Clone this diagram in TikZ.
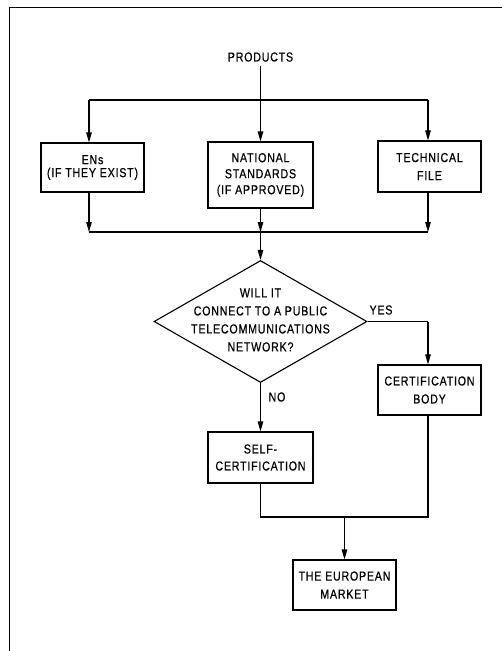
\documentclass[tikz,border=0pt]{standalone}
\usepackage{fontspec}
\setmainfont{Liberation Sans}[FakeStretch=0.82,LetterSpace=6,FakeBold=0.6]
\usetikzlibrary{arrows.meta,shapes.geometric}
\begin{document}
\begin{tikzpicture}[x=1pt,y=-1pt,
  every node/.style={font=\fontsize{13}{17}\selectfont},
  box/.style={draw,line width=1.1pt,align=center,inner sep=0pt},
  lbl/.style={inner sep=0pt},
  conn/.style={line width=1.1pt},
  arr/.style={conn,-{Triangle[length=10pt,width=5.5pt]}},
  frame/.style={line width=1pt}]
\useasboundingbox (0,0) rectangle (502,651);
% frame
\coordinate (fTL) at (9,7);
\coordinate (fBL) at (9,651);
\coordinate (fTR) at (502,7);
\draw[frame] (fBL) -- (fTL) -- (fTR);
% nodes
\node[lbl] (prod) at (260.5,57) {PRODUCTS};
\node[box,minimum width=103pt,minimum height=49pt,font=\fontsize{13}{13}\selectfont] (en) at (92.5,167.5) {ENs\\(IF THEY EXIST)};
\node[box,minimum width=105pt,minimum height=66pt,font=\fontsize{13}{16}\selectfont] (nat) at (260.5,175) {NATIONAL\\STANDARDS\\(IF APPROVED)};
\node[box,minimum width=103pt,minimum height=51pt,font=\fontsize{13}{18}\selectfont] (tech) at (429.5,166.5) {TECHNICAL\\FILE};
\node[draw,diamond,line width=1.1pt,inner sep=0pt,minimum width=213pt,minimum height=122pt] (dia) at (260.5,321.5) {};
\node[lbl,align=center,font=\fontsize{13}{18}\selectfont] (diatext) at (260.5,320) {WILL IT\\CONNECT TO A PUBLIC\\TELECOMMUNICATIONS\\NETWORK?};
\node[box,minimum width=103pt,minimum height=50pt,font=\fontsize{13}{18}\selectfont] (cert) at (429.5,390) {CERTIFICATION\\BODY};
\node[box,minimum width=105pt,minimum height=51pt] (self) at (260.5,457.5) {SELF-\\CERTIFICATION};
\node[box,minimum width=103pt,minimum height=50pt,font=\fontsize{13}{18}\selectfont] (eu) at (344.5,585) {THE EUROPEAN\\MARKET};
\node[lbl] (yes) at (381,310) {YES};
\node[lbl] (no) at (277,397) {NO};
% junctions
\coordinate (t1) at (89,100);
\coordinate (t3) at (428,100);
\coordinate (b1) at (89,232);
\coordinate (b2) at (260.5,232);
\coordinate (b3) at (428,232);
\coordinate (y1) at (428,321.5);
\coordinate (m1) at (260.5,517);
\coordinate (m2) at (344.5,517);
\coordinate (m3) at (428,517);
% connectors
\draw[conn] (t1) -- (t3);
\draw[arr] (prod.south) ++(0,4) -- (nat.north);
\draw[arr] (t1) -- (t1 |- en.north);
\draw[arr] (t3) -- (t3 |- tech.north);
\draw[arr] (b1 |- en.south) -- (b1);
\draw[arr] (nat.south) -- (b2);
\draw[arr] (b3 |- tech.south) -- (b3);
\draw[conn] (b1) -- (b3);
\draw[arr] (b2) -- (dia.north);
\draw[conn] (dia.east) -- (y1);
\draw[arr] (y1) -- (y1 |- cert.north);
\draw[arr] (dia.south) -- (self.north);
\draw[conn] (self.south) -- (m1) -- (m3) -- (m3 |- cert.south);
\draw[arr] (m2) -- (eu.north);
\end{tikzpicture}
\end{document}
